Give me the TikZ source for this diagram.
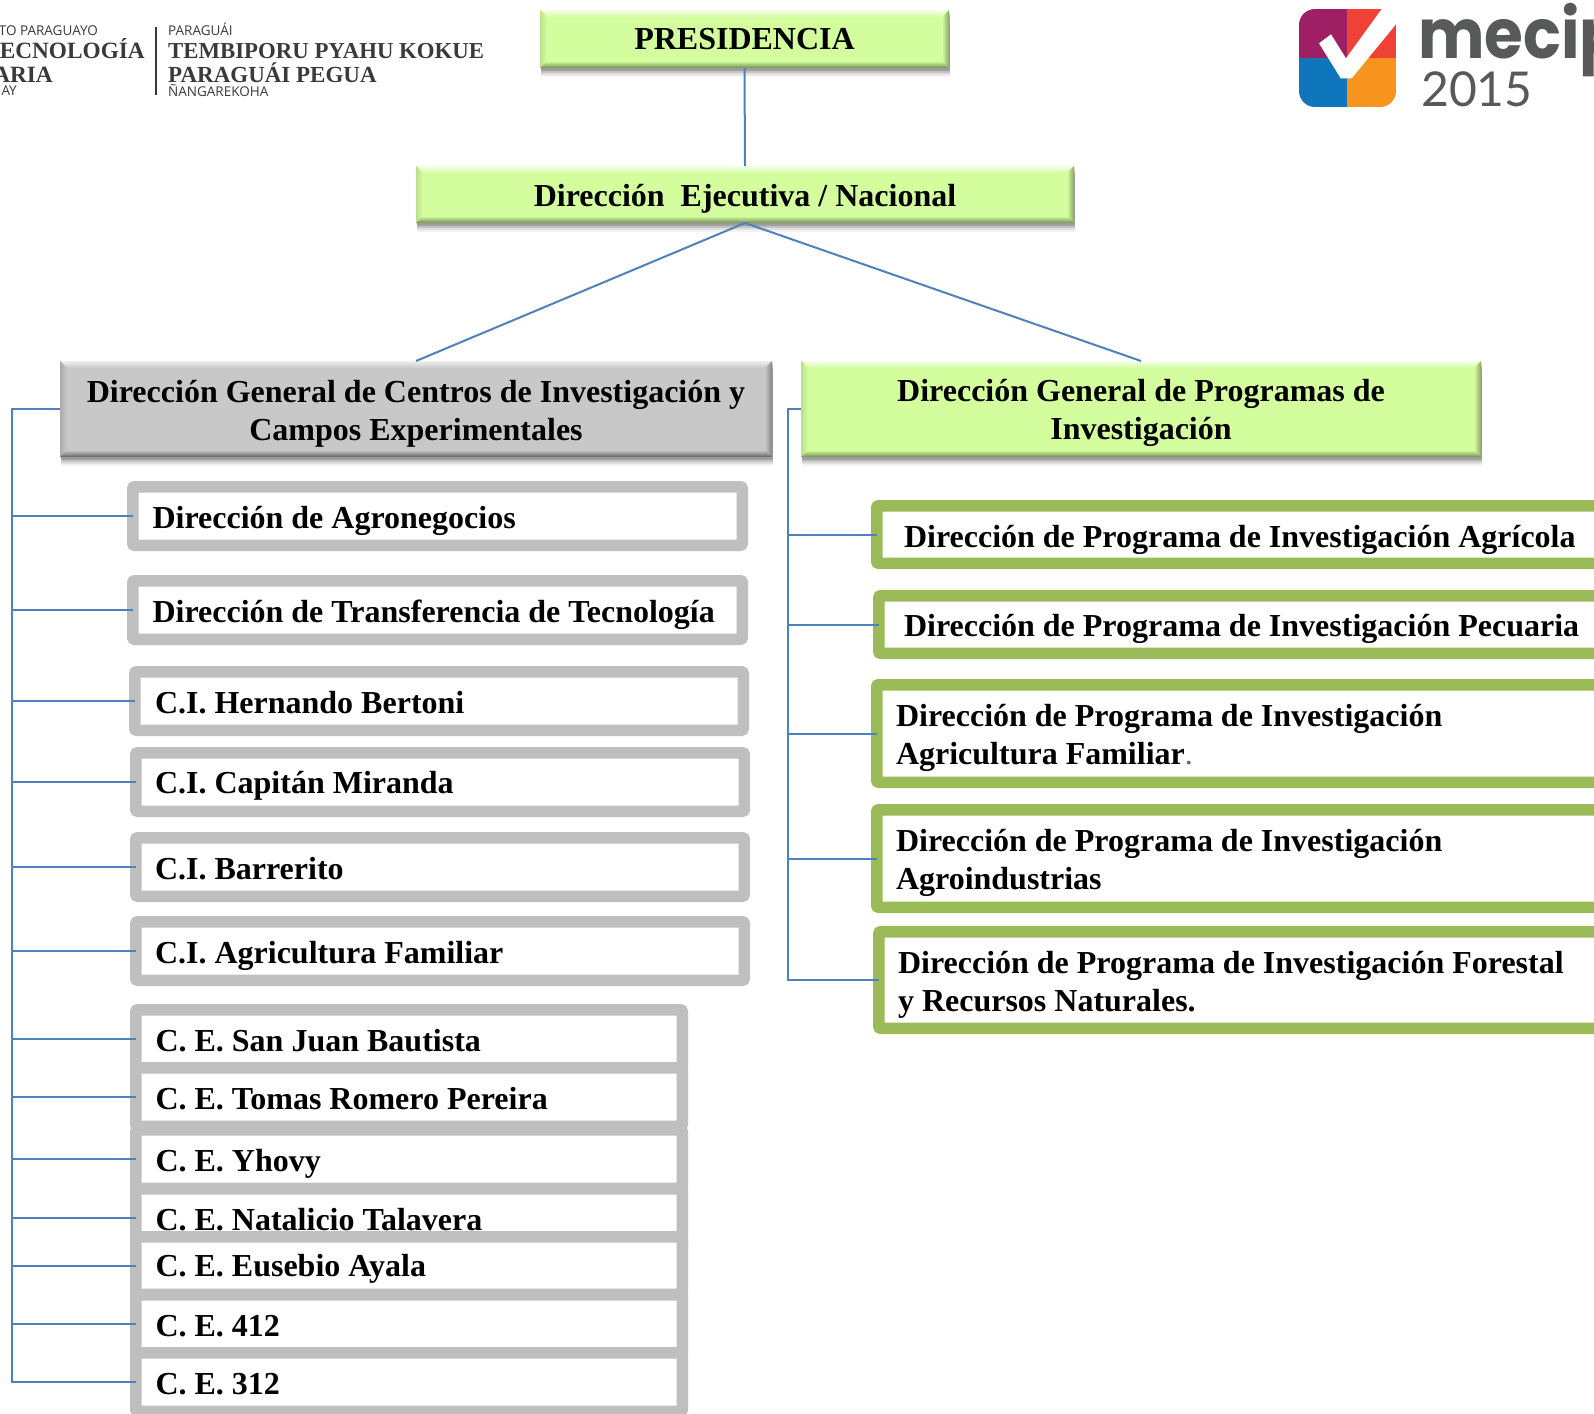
\documentclass[tikz,border=0pt]{standalone}
\usepackage{fontspec}
\setmainfont{Liberation Serif}
\newfontfamily\logosans{Open Sans}
\newfontfamily\logolato{Lato}
\newfontfamily\logopop[FakeStretch=0.91]{Poppins}
\usetikzlibrary{shadows,calc}
\definecolor{conn}{HTML}{4F81BD}
\definecolor{gframe}{HTML}{BFBFBF}
\definecolor{vframe}{HTML}{9BBB59}
\definecolor{limefill}{HTML}{D4FE9E}
\definecolor{grayfill}{HTML}{C8C8C8}
\definecolor{logoink}{HTML}{3A3A3C}
\definecolor{mecipink}{HTML}{58595B}
\definecolor{mpurple}{HTML}{9E1F63}
\definecolor{mred}{HTML}{F04136}
\definecolor{mblue}{HTML}{0F75BD}
\definecolor{morange}{HTML}{F7941E}
\newcommand{\tstrut}[1]{\rule[-4pt]{0pt}{\dimexpr#1pt+4pt\relax}}
\tikzset{
  x=1pt,y=-1pt,
  link/.style={draw=conn,line width=2pt},
  trunk/.style={draw=conn,line width=2.3pt},
  framebox/.style={draw,fill=white,line width=11.5pt,rectangle,rounded corners=2pt,outer sep=0pt,inner ysep=0pt,align=flush left,
     font=\bfseries\fontsize{32}{38}\selectfont},
  headbox/.style={rectangle,outer sep=0pt,inner sep=0pt,align=center,
     font=\bfseries\fontsize{32}{38}\selectfont,
     drop shadow={shadow xshift=1pt,shadow yshift=-9pt,opacity=.05,fill=black},
     drop shadow={shadow xshift=1pt,shadow yshift=-7pt,opacity=.08,fill=black},
     drop shadow={shadow xshift=1pt,shadow yshift=-5pt,opacity=.12,fill=black},
     drop shadow={shadow xshift=1pt,shadow yshift=-3pt,opacity=.18,fill=black}},
  logoserif/.style={inner sep=0pt,text=logoink,font=\bfseries},
  logosmall/.style={inner sep=0pt,text=logoink},
}
\newcommand{\orgbox}[8]{%
  \pgfmathsetmacro{\ix}{#7-#3-5.75}%
  \pgfmathsetmacro{\tw}{#5-#3-11.5-2*\ix}%
  \pgfmathsetmacro{\cx}{(#3+#5)/2}%
  \pgfmathsetmacro{\cy}{(#4+#6)/2}%
  \pgfmathsetmacro{\mw}{#5-#3-11.5}%
  \pgfmathsetmacro{\mh}{#6-#4-11.5}%
  \node[framebox,draw=#2,minimum width=\mw pt,minimum height=\mh pt,inner xsep=\ix pt,text width=\tw pt] (#1) at (\cx,\cy) {#8};
}
\newcommand{\headnode}[7]{%
  \pgfmathsetmacro{\cx}{(#3+#5)/2}%
  \pgfmathsetmacro{\cy}{(#4+#6)/2}%
  \pgfmathsetmacro{\mw}{#5-#3}%
  \pgfmathsetmacro{\mh}{#6-#4}%
  \node[headbox,fill=#2,minimum width=\mw pt,minimum height=\mh pt] (#1) at (\cx,\cy) {#7};
}
\newcommand{\bevel}[6]{%
  \shade[top color=#3,bottom color=#2] (#1.north west)--(#1.north east)--([shift={(-7pt,-7pt)}]#1.north east)--([shift={(7pt,-7pt)}]#1.north west)--cycle;
  \shade[left color=#4,right color=#2] (#1.north west)--(#1.south west)--([shift={(7pt,7pt)}]#1.south west)--([shift={(7pt,-7pt)}]#1.north west)--cycle;
  \shade[right color=#5,left color=#2] (#1.north east)--(#1.south east)--([shift={(-7pt,7pt)}]#1.south east)--([shift={(-7pt,-7pt)}]#1.north east)--cycle;
  \shade[bottom color=#6,top color=#2] (#1.south west)--(#1.south east)--([shift={(-7pt,7pt)}]#1.south east)--([shift={(7pt,7pt)}]#1.south west)--cycle;
}
\begin{document}
\begin{tikzpicture}
\useasboundingbox (0,0) rectangle (1594,1413);
\clip (0,0) rectangle (1594,1413);
\fill[white] (0,0) rectangle (1594,1413);

% header boxes
\headnode{pres}{limefill}{540}{10}{949}{68}{\tstrut{26}PRESIDENCIA}
\headnode{ejec}{limefill}{416}{166}{1074}{223}{\tstrut{30}Dirección\ \ Ejecutiva / Nacional}
\headnode{dgc}{grayfill}{60}{361}{772}{457}{\tstrut{31}Dirección General de Centros de Investigación y\\\tstrut{26}Campos Experimentales}
\headnode{dgp}{limefill}{801}{361}{1481}{457}{\tstrut{31}Dirección General de Programas de\\\tstrut{26}Investigación}
\bevel{pres}{limefill}{limefill!25!white}{limefill!88!black}{limefill!65!black}{limefill!55!black}
\bevel{ejec}{limefill}{limefill!25!white}{limefill!88!black}{limefill!65!black}{limefill!55!black}
\bevel{dgc}{grayfill}{grayfill!30!white}{grayfill!85!black}{grayfill!65!black}{grayfill!50!black}
\bevel{dgp}{limefill}{limefill!25!white}{limefill!88!black}{limefill!65!black}{limefill!55!black}

% left column
\orgbox{a1}{gframe}{127}{481}{748}{551}{152.5}{\tstrut{32}Dirección de Agronegocios}
\orgbox{a2}{gframe}{127}{575}{748}{645}{152.5}{\tstrut{32}Dirección de Transferencia de Tecnología}
\orgbox{a3}{gframe}{129}{666}{749}{736}{155}{\tstrut{28}C.I. Hernando Bertoni}
\orgbox{a4}{gframe}{130}{747}{750}{817}{155}{\tstrut{30}C.I. Capitán Miranda}
\orgbox{a5}{gframe}{130}{832}{750}{902}{155}{\tstrut{28}C.I. Barrerito}
\orgbox{a6}{gframe}{130}{916}{750}{986}{155}{\tstrut{32}C.I. Agricultura Familiar}
\orgbox{c1}{gframe}{130}{1004}{688}{1074}{155.5}{\tstrut{28}C. E. San Juan Bautista}
\orgbox{c2}{gframe}{130}{1062}{688}{1132}{155.5}{\tstrut{28}C. E. Tomas Romero Pereira}
\orgbox{c3}{gframe}{130}{1124}{688}{1194}{155.5}{\tstrut{32}C. E. Yhovy}
\orgbox{c4}{gframe}{130}{1183}{688}{1253}{155.5}{\tstrut{28}C. E. Natalicio Talavera}
\orgbox{c5}{gframe}{130}{1231}{688}{1300}{155.5}{\tstrut{28}C. E. Eusebio Ayala}
\orgbox{c6}{gframe}{130}{1289}{688}{1359}{155.5}{\tstrut{28}C. E. 412}
\orgbox{c7}{gframe}{130}{1347}{688}{1417}{155.5}{\tstrut{28}C. E. 312}

% right column
\orgbox{p1}{vframe}{871}{500}{1720}{569}{904}{\tstrut{34}Dirección de Programa de Investigación Agrícola}
\orgbox{p2}{vframe}{873}{590}{1720}{659}{904}{\tstrut{32}Dirección de Programa de Investigación Pecuaria}
\orgbox{p3}{vframe}{871}{679}{1720}{788}{896}{\tstrut{31}Dirección de Programa de Investigación\\\tstrut{26}Agricultura Familiar{\mdseries\color{black!60}.}}
\orgbox{p4}{vframe}{871}{804}{1720}{913}{896}{\tstrut{31}Dirección de Programa de Investigación\\\tstrut{26}Agroindustrias}
\orgbox{p5}{vframe}{873}{926}{1720}{1034}{898}{\tstrut{31}Dirección de Programa de Investigación Forestal\\\tstrut{26}y Recursos Naturales.}

% connectors
\draw[link] (pres.south) -- (ejec.north);
\draw[link] (ejec.south) -- (dgc.north);
\draw[link] (ejec.south) -- (dgp.north);

\coordinate (ltrunk) at (12,409);
\coordinate (rtrunk) at (788,409);
\draw[trunk] (dgc.west) -- (ltrunk) -- (ltrunk |- c7.west) -- (c7.west);
\foreach \n in {a1,a2,a3,a4,a5,a6,c1,c2,c3,c4,c5,c6}
  \draw[link] (ltrunk |- \n.west) -- (\n.west);
\draw[trunk] (dgp.west) -- (rtrunk) -- (rtrunk |- p5.west) -- (p5.west);
\foreach \n in {p1,p2,p3,p4}
  \draw[link] (rtrunk |- \n.west) -- (\n.west);

% left logo
\node[logosmall,anchor=base east,font=\logosans\fontsize{13.5}{15}\selectfont] (l1) at (98,36) {TO PARAGUAYO};
\node[logoserif,anchor=base east,font=\bfseries\fontsize{23.3}{26}\selectfont] (l2) at (145,59) {ECNOLOGÍA};
\node[logoserif,anchor=base east,font=\bfseries\fontsize{23.3}{26}\selectfont] (l3) at (53,82) {ARIA};
\node[logosmall,anchor=base east,font=\logosans\fontsize{13.5}{15}\selectfont] (l4) at (17,95) {AY};
\draw[logoink,line width=1.1pt] (156,27) -- (156,95);
\node[logosmall,anchor=base west,font=\logosans\fontsize{13.5}{15}\selectfont] (r1) at (168,36) {PARAGUÁI};
\node[logoserif,anchor=base west,font=\bfseries\fontsize{22.8}{26}\selectfont] (r2) at (168,59) {TEMBIPORU PYAHU KOKUE};
\node[logoserif,anchor=base west,font=\bfseries\fontsize{23}{26}\selectfont] (r3) at (168,82) {PARAGUÁI PEGUA};
\node[logosmall,anchor=base west,font=\logosans\fontsize{13.5}{15}\selectfont] (r4) at (168,96) {ÑANGAREKOHA};

% mecip logo
\begin{scope}
\clip[rounded corners=16pt] (1299,9) rectangle (1396,107);
\fill[mpurple] (1299,9) rectangle (1347,58);
\fill[mred] (1347,9) rectangle (1396,58);
\fill[mblue] (1299,58) rectangle (1347,107);
\fill[morange] (1347,58) rectangle (1396,107);
\end{scope}
\fill[white] (1319,43.3) -- (1331,34.3) -- (1346,58.3) -- (1381.7,9) -- (1397,9) -- (1397,23) -- (1351.7,78.3) -- (1340.7,78.3) -- cycle;
\node[inner sep=0pt,anchor=base west,text=mecipink,font=\logopop\bfseries\fontsize{69}{72}\selectfont] (m1) at (1418,59) {mecip};
\node[inner sep=0pt,anchor=base west,text=mecipink,font=\logolato\fontsize{48}{52}\selectfont] (m2) at (1421,106) {2015};
\end{tikzpicture}
\end{document}
